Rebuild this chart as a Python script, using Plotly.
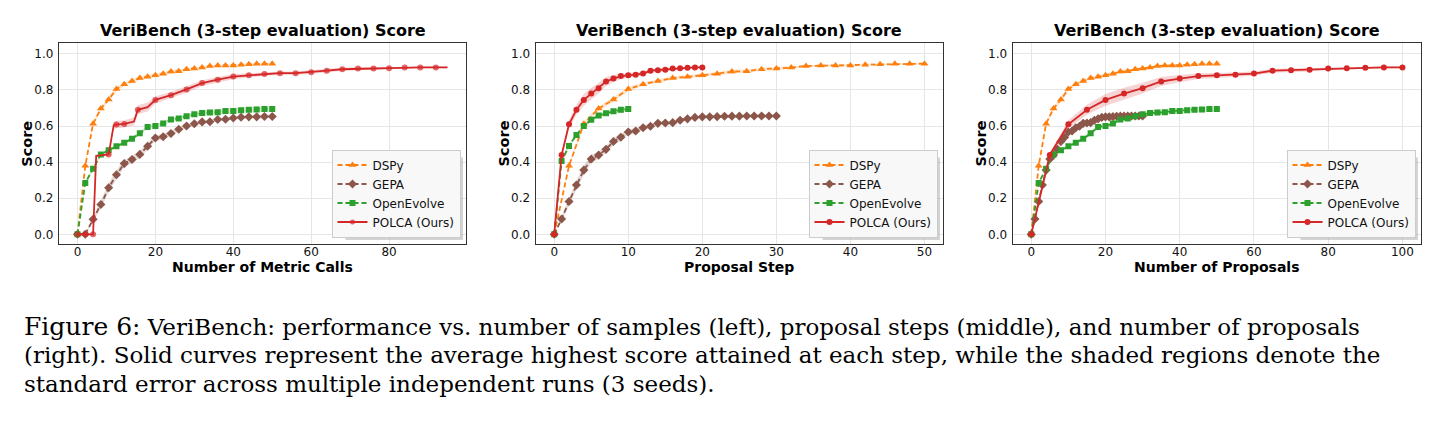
import plotly.graph_objects as go

W, H = 1441, 421

# ---------------- data ----------------
methods = ["DSPy", "GEPA", "OpenEvolve", "POLCA (Ours)"]
panel_titles = ["VeriBench (3-step evaluation) Score"] * 3
x_titles = ["Number of Metric Calls", "Proposal Step", "Number of Proposals"]
y_title = "Score"
y_ticks = [0.0, 0.2, 0.4, 0.6, 0.8, 1.0]
x_ticks_1 = [0, 20, 40, 60, 80]
x_ticks_2 = [0, 10, 20, 30, 40, 50]
x_ticks_3 = [0, 20, 40, 60, 80, 100]

# DSPy (same curve in all three panels, x = 0..50 step 2)
dspy_x = [0, 2, 4, 6, 8, 10, 12, 14, 16, 18, 20, 22, 24, 26, 28, 30, 32, 34, 36, 38, 40, 42, 44, 46, 48, 50]
dspy_y = [0, 0.38, 0.613, 0.697, 0.747, 0.805, 0.832, 0.85, 0.866, 0.873, 0.881, 0.89, 0.902, 0.904,
          0.915, 0.919, 0.924, 0.933, 0.935, 0.935, 0.935, 0.94, 0.943, 0.945, 0.946, 0.946]
dspy_se = [0, 0.01, 0.012, 0.012, 0.012, 0.012, 0.01, 0.01, 0.01, 0.01, 0.01, 0.01, 0.01, 0.01,
           0.008, 0.008, 0.008, 0.006, 0.006, 0.006, 0.006, 0.005, 0.005, 0.005, 0.005, 0.005]

# GEPA, panel 1 (metric calls)
gepa_calls_x = [0, 2, 4, 6, 8, 10, 12, 14, 16, 18, 20, 22, 24, 26, 28, 30, 32, 34, 36, 38, 40, 42, 44, 46, 48, 50]
gepa_calls_y = [0, 0, 0.083, 0.165, 0.258, 0.33, 0.392, 0.415, 0.443, 0.488, 0.534, 0.541, 0.559, 0.582,
                0.6, 0.613, 0.623, 0.624, 0.636, 0.638, 0.645, 0.649, 0.651, 0.651, 0.653, 0.653]
gepa_calls_se = [0, 0, 0.012, 0.02, 0.025, 0.025, 0.02, 0.02, 0.02, 0.02, 0.015, 0.015, 0.015, 0.012,
                 0.01, 0.01, 0.01, 0.01, 0.008, 0.008, 0.008, 0.008, 0.008, 0.008, 0.008, 0.008]

# GEPA, panels 2 and 3 (x = 0..30 step 1)
gepa_x = list(range(0, 31))
gepa_y = [0, 0.085, 0.182, 0.273, 0.356, 0.417, 0.439, 0.471, 0.514, 0.538, 0.567, 0.573, 0.591, 0.599,
          0.615, 0.617, 0.619, 0.632, 0.64, 0.648, 0.651, 0.651, 0.652, 0.654, 0.655, 0.655, 0.656,
          0.656, 0.656, 0.656, 0.656]
gepa_se = [0, 0.012, 0.02, 0.025, 0.025, 0.022, 0.02, 0.02, 0.02, 0.018, 0.015, 0.015, 0.012, 0.012,
           0.01, 0.01, 0.01, 0.01, 0.008, 0.008, 0.008, 0.008, 0.008, 0.008, 0.008, 0.008, 0.008,
           0.008, 0.008, 0.008, 0.008]

# OpenEvolve, panels 1 and 3 (x = 0..50 step 2)
oe_x = [0, 2, 4, 6, 8, 10, 12, 14, 16, 18, 20, 22, 24, 26, 28, 30, 32, 34, 36, 38, 40, 42, 44, 46, 48, 50]
oe_y = [0, 0.285, 0.363, 0.443, 0.466, 0.488, 0.507, 0.529, 0.56, 0.595, 0.6, 0.614, 0.636, 0.642,
        0.655, 0.665, 0.672, 0.675, 0.676, 0.683, 0.684, 0.688, 0.691, 0.692, 0.694, 0.694]
oe_se = [0, 0.01, 0.01, 0.008, 0.008, 0.008, 0.008, 0.01, 0.01, 0.01, 0.01, 0.012, 0.012, 0.012,
         0.012, 0.012, 0.014, 0.015, 0.015, 0.015, 0.015, 0.015, 0.015, 0.015, 0.015, 0.015]

# OpenEvolve, panel 2 (proposal step)
oe_step_x = list(range(0, 11))
oe_step_y = [0, 0.406, 0.49, 0.551, 0.6, 0.635, 0.658, 0.671, 0.682, 0.69, 0.694]
oe_step_se = [0, 0.015, 0.012, 0.01, 0.01, 0.01, 0.01, 0.012, 0.012, 0.015, 0.015]

# POLCA, panel 1 (metric calls); checkpoint = a marker is drawn at that point
polca_calls_x = [0, 2, 4, 4.8, 8, 9.3, 10, 12, 14.5, 15.5, 18, 20, 24, 28, 32, 36, 40, 44, 48, 52, 56,
                 60, 64, 68, 72, 76, 80, 84, 88, 92, 95]
polca_calls_y = [0, 0, 0, 0.435, 0.443, 0.605, 0.608, 0.612, 0.625, 0.69, 0.705, 0.745, 0.771, 0.803,
                 0.838, 0.857, 0.874, 0.881, 0.889, 0.893, 0.893, 0.898, 0.907, 0.915, 0.919, 0.919,
                 0.921, 0.924, 0.925, 0.925, 0.925]
polca_calls_se = [0, 0, 0, 0.005, 0.006, 0.02, 0.02, 0.02, 0.022, 0.025, 0.025, 0.02, 0.018, 0.018,
                  0.016, 0.015, 0.014, 0.012, 0.01, 0.01, 0.01, 0.01, 0.01, 0.008, 0.008, 0.006,
                  0.006, 0.005, 0.005, 0.005, 0.005]
polca_calls_checkpoint = [1, 1, 1, 0, 1, 0, 1, 1, 0, 1, 0, 1, 1, 1, 1, 1, 1, 1, 1, 1, 1,
                          1, 1, 1, 1, 1, 1, 1, 1, 1, 0]

# POLCA, panel 2 (proposal step 0..20) and panel 3 (proposals 0..100 step 5)
polca_step_x = list(range(0, 21))
polca_prop_x = list(range(0, 101, 5))
polca_y = [0, 0.44, 0.61, 0.69, 0.745, 0.78, 0.81, 0.847, 0.863, 0.877, 0.881, 0.885, 0.891, 0.907,
           0.91, 0.912, 0.919, 0.921, 0.923, 0.925, 0.925]
polca_se = [0, 0.012, 0.022, 0.028, 0.032, 0.032, 0.03, 0.025, 0.02, 0.016, 0.013, 0.012, 0.012,
            0.011, 0.01, 0.01, 0.008, 0.008, 0.006, 0.005, 0.005]

caption_head = "Figure 6:"
caption_lines = [
    "VeriBench: performance vs. number of samples (left), proposal steps (middle), and number of proposals",
    "(right). Solid curves represent the average highest score attained at each step, while the shaded regions denote the",
    "standard error across multiple independent runs (3 seeds).",
]

# ---------------- styling ----------------
COL = {"DSPy": "#ff7f0e", "GEPA": "#8c564b", "OpenEvolve": "#2ca02c", "POLCA (Ours)": "#d62728"}
FILL = {"DSPy": "rgba(255,127,14,0.2)", "GEPA": "rgba(140,86,75,0.22)",
        "OpenEvolve": "rgba(44,160,44,0.22)", "POLCA (Ours)": "rgba(214,39,40,0.2)"}
SYM = {"DSPy": ("triangle-up", 7), "GEPA": ("diamond", 7), "OpenEvolve": ("square", 6),
       "POLCA (Ours)": ("circle", 6)}
DASH = {"DSPy": "5px,3px", "GEPA": "5px,3px", "OpenEvolve": "5px,3px", "POLCA (Ours)": "solid"}

# plot areas in pixels (left, right); top/bottom shared
PX = [(59, 466), (535.7, 943), (1012.7, 1421)]
TOP, BOT = 43.3, 244.3
XR = [[-4.75, 99.75], [-2.5, 52.5], [-5, 105]]
YR = [-0.0554, 1.0587]

fig = go.Figure()

panels = [
    [("DSPy", dspy_x, dspy_y, dspy_se, None),
     ("GEPA", gepa_calls_x, gepa_calls_y, gepa_calls_se, None),
     ("OpenEvolve", oe_x, oe_y, oe_se, None),
     ("POLCA (Ours)", polca_calls_x, polca_calls_y, polca_calls_se, polca_calls_checkpoint)],
    [("DSPy", dspy_x, dspy_y, dspy_se, None),
     ("GEPA", gepa_x, gepa_y, gepa_se, None),
     ("OpenEvolve", oe_step_x, oe_step_y, oe_step_se, None),
     ("POLCA (Ours)", polca_step_x, polca_y, polca_se, None)],
    [("DSPy", dspy_x, dspy_y, dspy_se, None),
     ("GEPA", gepa_x, gepa_y, gepa_se, None),
     ("OpenEvolve", oe_x, oe_y, oe_se, None),
     ("POLCA (Ours)", polca_prop_x, polca_y, polca_se, None)],
]

for i, series in enumerate(panels):
    xa = "x" if i == 0 else f"x{i+1}"
    ya = "y" if i == 0 else f"y{i+1}"
    lg = "legend" if i == 0 else f"legend{i+1}"
    for name, xs, ys, se, ck in series:
        up = [a + b for a, b in zip(ys, se)]
        lo = [a - b for a, b in zip(ys, se)]
        fig.add_trace(go.Scatter(x=list(xs) + list(xs)[::-1], y=up + lo[::-1], fill="toself",
                                 fillcolor=FILL[name], line=dict(width=0), mode="lines",
                                 hoverinfo="skip", showlegend=False, xaxis=xa, yaxis=ya))
    for name, xs, ys, se, ck in series:
        sym, sz = SYM[name]
        size = sz if ck is None else [sz if c else 0 for c in ck]
        fig.add_trace(go.Scatter(x=xs, y=ys, mode="lines+markers", name=name,
                                 line=dict(color=COL[name], width=1.8, dash=DASH[name]),
                                 marker=dict(symbol=sym, size=size, color=COL[name], line=dict(width=0)),
                                 xaxis=xa, yaxis=ya, legend=lg))

tickfont = dict(family="DejaVu Sans", size=12, color="#111111")
xticks = [x_ticks_1, x_ticks_2, x_ticks_3]
layout = dict(width=W, height=H, margin=dict(l=0, r=0, t=0, b=0), autosize=False,
              paper_bgcolor="white", plot_bgcolor="white", showlegend=True)
annotations = []
shapes = []
LEG_BOTTOM = 237.5
for i in range(3):
    l, r = PX[i]
    sfx = "" if i == 0 else str(i + 1)
    layout["xaxis" + sfx] = dict(domain=[l / W, r / W], range=XR[i], tickmode="array",
                                 tickvals=xticks[i], ticktext=[str(v) for v in xticks[i]],
                                 showgrid=True, gridcolor="#e6e6e6", gridwidth=1, zeroline=False,
                                 showline=True, mirror=True, linecolor="#333333", linewidth=1.3,
                                 ticks="", ticklabelstandoff=-4, tickfont=tickfont,
                                 anchor="y" + sfx)
    layout["yaxis" + sfx] = dict(domain=[1 - BOT / H, 1 - TOP / H], range=YR, tickmode="array",
                                 tickvals=y_ticks, ticktext=[f"{v:.1f}" for v in y_ticks],
                                 showgrid=True, gridcolor="#e6e6e6", gridwidth=1, zeroline=False,
                                 showline=True, mirror=True, linecolor="#333333", linewidth=1.3,
                                 ticks="", ticklabelstandoff=2, tickfont=tickfont,
                                 anchor="x" + sfx)
    leg_r = r - 5.5
    lgd = dict(x=leg_r / W, y=1 - LEG_BOTTOM / H, xanchor="right", yanchor="bottom",
               bgcolor="#f8f8f8", bordercolor="#cccccc", borderwidth=1,
               font=dict(family="DejaVu Sans", size=12, color="#111111"),
               itemwidth=30, tracegroupgap=0)
    layout["legend" if i == 0 else f"legend{i+1}"] = lgd
    # legend drop shadow
    shapes.append(dict(type="rect", xref="paper", yref="paper",
                       x0=(leg_r - 115) / W, x1=(leg_r + 2.5) / W,
                       y0=1 - (LEG_BOTTOM + 2.5) / H, y1=1 - (LEG_BOTTOM - 80) / H,
                       fillcolor="rgba(130,130,130,0.35)", line=dict(width=0), layer="above"))
    cx = (l + r) / 2
    annotations.append(dict(text=panel_titles[i], x=cx / W, y=1 - 30.7 / H, xref="paper", yref="paper",
                            xanchor="center", yanchor="middle", showarrow=False,
                            font=dict(family="DejaVu Sans", size=16, color="#000000", weight=700)))
    annotations.append(dict(text=x_titles[i], x=cx / W, y=1 - 267 / H, xref="paper", yref="paper",
                            xanchor="center", yanchor="middle", showarrow=False,
                            font=dict(family="DejaVu Sans", size=14, color="#000000", weight=700)))
    annotations.append(dict(text=y_title, x=(l - 32) / W, y=1 - (TOP + BOT) / 2 / H, xref="paper",
                            yref="paper", xanchor="center", yanchor="middle", textangle=-90,
                            showarrow=False,
                            font=dict(family="DejaVu Sans", size=14.5, color="#000000", weight=700)))

cap_texts = [f'<span style="font-size:25px">{caption_head}</span> {caption_lines[0]}',
             caption_lines[1], caption_lines[2]]
for txt, yc in zip(cap_texts, [326, 355, 384]):
    annotations.append(dict(text=txt, x=22 / W, y=1 - yc / H, xref="paper", yref="paper",
                            xanchor="left", yanchor="middle", showarrow=False,
                            font=dict(family="DejaVu Serif", size=23, color="#000000")))

layout["annotations"] = annotations
layout["shapes"] = shapes
fig.update_layout(**layout)
fig.write_html("out.html")
